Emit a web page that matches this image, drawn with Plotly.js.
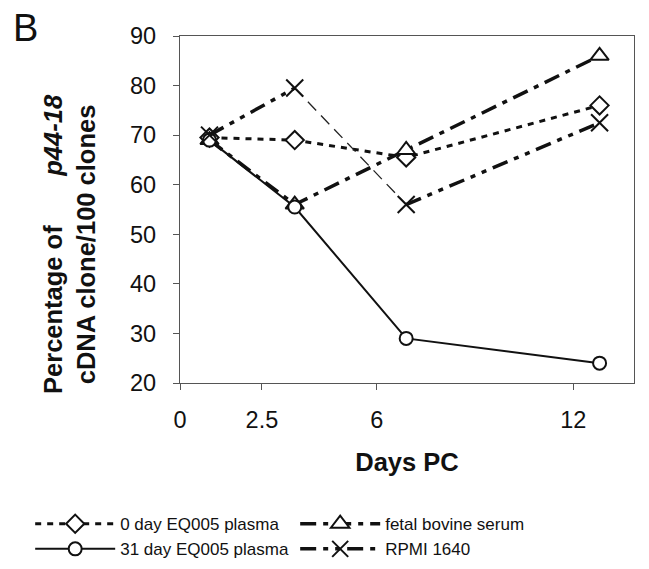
<!DOCTYPE html>
<html>
<head>
<meta charset="utf-8">
<script src="https://cdn.plot.ly/plotly-3.0.1.min.js"></script>
<style>html,body{margin:0;padding:0;background:#fff;}</style>
</head>
<body>
<div id="chart" style="width:649px;height:569px;"></div>
<script>
// Data
const days = [0.9, 3.5, 6.9, 12.8];
const tickVals = [0, 2.5, 6, 12];
const tickText = ['0', '2.5', '6', '12'];
const seriesNames = ['0 day EQ005 plasma', 'fetal bovine serum', '31 day EQ005 plasma', 'RPMI 1640'];
const plasma0 = [69.5, 69, 65.5, 76];
const fbs = [69, 56, 67, 86];
const plasma31 = [69, 55.5, 29, 24];
const rpmi = [70, 79.5, 56, 72.5];

const font = 'Liberation Sans, Arial, sans-serif';

const traces = [
  {
    x: days, y: plasma0, name: seriesNames[0], mode: 'lines+markers',
    line: {color: '#111', width: 3, dash: '6px,6px'},
    marker: {symbol: 'diamond', size: 14, color: '#fff', line: {color: '#111', width: 2}}
  },
  {
    x: days, y: fbs, name: seriesNames[1], mode: 'lines+markers',
    line: {color: '#111', width: 3.5, dash: '16px,7px,5px,7px'},
    marker: {symbol: 'triangle-up', size: 16, color: '#fff', line: {color: '#111', width: 2}}
  },
  {
    x: days, y: plasma31, name: seriesNames[2], mode: 'lines+markers',
    line: {color: '#111', width: 2},
    marker: {symbol: 'circle', size: 13, color: '#fff', line: {color: '#111', width: 2}}
  },
  {
    x: days.slice(1, 3), y: rpmi.slice(1, 3), mode: 'lines', showlegend: false, hoverinfo: 'skip',
    line: {color: '#222', width: 1.3, dash: '12px,7px'}
  },
  {
    x: [days[0], days[1], null, days[2], days[3]],
    y: [rpmi[0], rpmi[1], null, rpmi[2], rpmi[3]],
    name: seriesNames[3], mode: 'lines+markers', connectgaps: false,
    line: {color: '#111', width: 3.5, dash: '16px,7px,5px,7px,5px,7px'},
    marker: {symbol: 'x-thin', size: 17, color: '#111', line: {color: '#111', width: 2}}
  }
];

const layout = {
  width: 649, height: 569,
  margin: {l: 180, r: 15, t: 36, b: 186, autoexpand: false},
  paper_bgcolor: '#fff', plot_bgcolor: '#fff',
  font: {family: font, color: '#111'},
  showlegend: true,
  xaxis: {
    range: [0, 13.85], tickmode: 'array', tickvals: tickVals, ticktext: tickText,
    showgrid: false, zeroline: false, showline: true, mirror: true,
    linecolor: '#555', linewidth: 1.2, ticks: 'outside', ticklen: 6, tickcolor: '#555',
    tickfont: {family: font, size: 23.5, color: '#111'}, ticklabelstandoff: 10,
    title: {text: '<b>Days PC</b>', font: {family: font, size: 25.5, color: '#111'}, standoff: 20}
  },
  yaxis: {
    range: [20, 90], tickmode: 'linear', tick0: 20, dtick: 10,
    showgrid: false, zeroline: false, showline: true, mirror: true,
    linecolor: '#555', linewidth: 1.2, ticks: 'outside', ticklen: 6, tickcolor: '#555',
    tickfont: {family: font, size: 23.5, color: '#111'}, ticklabelstandoff: 12
  },
  legend: {
    orientation: 'h', x: -0.33, xanchor: 'left', y: -0.355, yanchor: 'top',
    entrywidth: 170, entrywidthmode: 'pixels', itemwidth: 80,
    font: {family: font, size: 17, color: '#111'}, traceorder: 'normal',
    bgcolor: 'rgba(0,0,0,0)'
  },
  annotations: [
    {
      text: '<b>Percentage of\u00a0\u00a0\u00a0\u00a0\u00a0\u00a0\u00a0<i>p44-18</i></b><br><b>cDNA clone/100 clones</b>',
      xref: 'paper', yref: 'paper', x: -0.245, y: 0.40, xanchor: 'center', yanchor: 'middle',
      textangle: -90, showarrow: false, font: {family: font, size: 25.5, color: '#111'}
    },
    {
      text: 'B', xref: 'paper', yref: 'paper', x: -0.341, y: 1.023, xanchor: 'center', yanchor: 'middle',
      showarrow: false, font: {family: font, size: 38, color: '#111'}
    }
  ]
};

Plotly.newPlot('chart', traces, layout, {displayModeBar: false, staticPlot: true});
</script>
</body>
</html>
